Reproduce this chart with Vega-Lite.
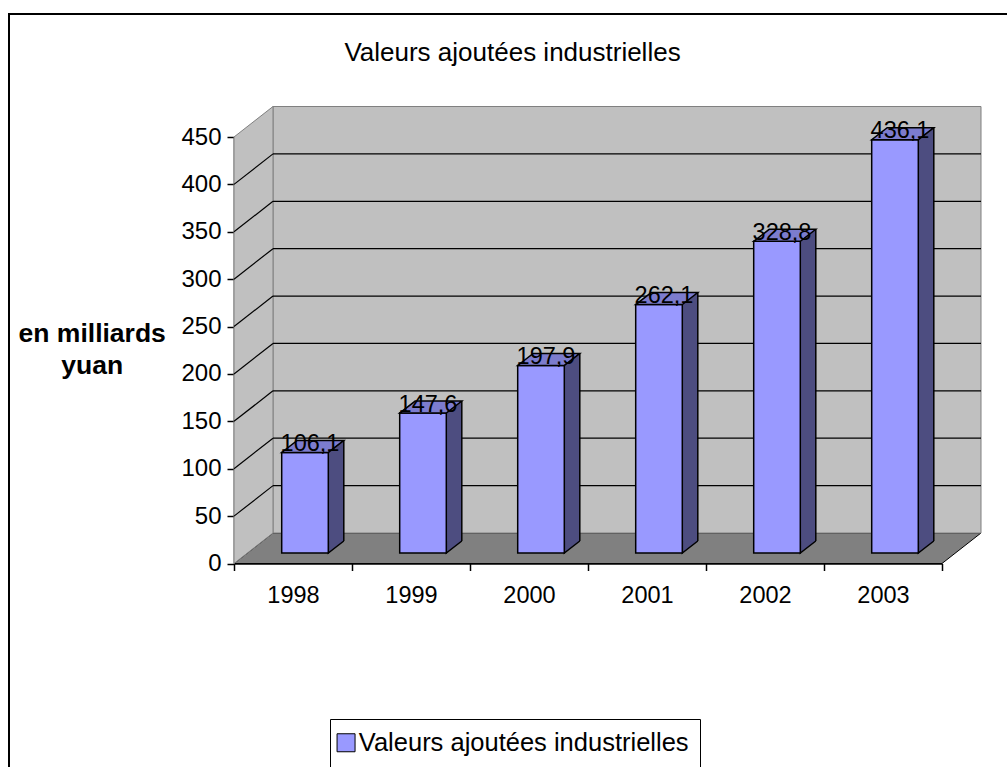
{
  "$schema": "https://vega.github.io/schema/vega-lite/v6.json",
  "width": 1007,
  "height": 767,
  "autosize": "none",
  "padding": {"left": 9, "top": 14, "right": 0, "bottom": 0},
  "background": "white",
  "config": {
    "font": "Liberation Sans",
    "view": {"stroke": "black", "strokeWidth": 2, "fill": "white"},
    "locale": {"number": {"decimal": ",", "thousands": " ", "grouping": [3], "currency": ["", " €"]}}
  },
  "title": {
    "text": "Valeurs ajoutées industrielles",
    "frame": "group",
    "anchor": "middle",
    "baseline": "alphabetic",
    "offset": -73,
    "fontSize": 26,
    "fontWeight": "normal",
    "color": "black",
    "font": "Liberation Sans"
  },
  "data": {"values": [
    {"year": 1998, "value": 106.1},
    {"year": 1999, "value": 147.6},
    {"year": 2000, "value": 197.9},
    {"year": 2001, "value": 262.1},
    {"year": 2002, "value": 328.8},
    {"year": 2003, "value": 436.1}
  ]},
  "resolve": {"axis": {"x": "independent", "y": "independent"}},
  "layer": [
    {
      "data": {"values": [{}]},
      "mark": {"type": "point", "shape": "M-0.90076,0L0.90076,0L1,-0.07761L-0.80153,-0.07761Z", "size": 617796, "filled": true, "fill": "#808080", "fillOpacity": 1, "stroke": "black", "strokeOpacity": 1, "strokeWidth": 1},
      "encoding": {
        "x": {"datum": 2000.5, "type": "quantitative", "scale": {"domain": [1997.5, 2003.5], "range": [225, 933], "nice": false, "zero": false}, "axis": null},
        "y": {"datum": 0, "type": "quantitative", "scale": {"domain": [0, 450], "range": [549.5, 123], "nice": false, "zero": false}, "axis": null}
      }
    },
    {
      "data": {"values": [{}]},
      "mark": {"type": "rect", "fill": "#C0C0C0", "stroke": "#808080", "strokeWidth": 1, "xOffset": 39, "x2Offset": 39, "yOffset": -30.5, "y2Offset": -30.5},
      "encoding": {
        "x": {"datum": 1997.5, "type": "quantitative", "axis": null},
        "x2": {"datum": 2003.5},
        "y": {"datum": 0, "type": "quantitative", "axis": null},
        "y2": {"datum": 450}
      }
    },
    {
      "data": {"values": [{}]},
      "mark": {"type": "point", "shape": "M0,0.87487L0,-0.87487L0.16,-1L0.16,0.74974Z", "size": 237656.25, "filled": true, "fill": "#C0C0C0", "fillOpacity": 1, "stroke": "#808080", "strokeOpacity": 1, "strokeWidth": 1},
      "encoding": {
        "x": {"datum": 1997.5, "type": "quantitative", "axis": null},
        "y": {"datum": 225, "type": "quantitative", "axis": null}
      }
    },
    {
      "data": {"values": [{"v": 50}, {"v": 100}, {"v": 150}, {"v": 200}, {"v": 250}, {"v": 300}, {"v": 350}, {"v": 400}]},
      "mark": {"type": "rule", "color": "black", "strokeWidth": 1.2, "xOffset": 39, "x2Offset": 39, "yOffset": -30.5},
      "encoding": {
        "x": {"datum": 1997.5, "type": "quantitative", "axis": null},
        "x2": {"datum": 2003.5},
        "y": {"field": "v", "type": "quantitative", "axis": null}
      }
    },
    {
      "data": {"values": [{"v": 50}, {"v": 100}, {"v": 150}, {"v": 200}, {"v": 250}, {"v": 300}, {"v": 350}, {"v": 400}]},
      "mark": {"type": "rule", "color": "black", "strokeWidth": 1.2, "x2Offset": 39, "y2Offset": -30.5},
      "encoding": {
        "x": {"datum": 1997.5, "type": "quantitative", "axis": null},
        "x2": {"datum": 1997.5},
        "y": {"field": "v", "type": "quantitative", "axis": null},
        "y2": {"field": "v"}
      }
    },
    {
      "mark": {"type": "rect", "fill": "#4D4D80", "xOffset": 35.3, "x2Offset": 50.8, "yOffset": -22.5, "y2Offset": -22.5},
      "encoding": {
        "x": {"field": "year", "type": "quantitative", "axis": null},
        "x2": {"field": "year"},
        "y": {"field": "value", "type": "quantitative", "axis": null},
        "y2": {"datum": 0}
      }
    },
    {
      "mark": {"type": "point", "shape": "M0.6949,-0.4429L0.6949,-0.2067L1,-0.4429", "size": 10322.56, "filled": true, "fill": "#4D4D80", "fillOpacity": 1, "stroke": "black", "strokeOpacity": 1, "strokeWidth": 1.5},
      "encoding": {
        "x": {"field": "year", "type": "quantitative", "axis": null},
        "y": {"datum": 0, "type": "quantitative", "axis": null}
      }
    },
    {
      "mark": {"type": "rule", "color": "black", "strokeWidth": 1.5, "xOffset": 50.8, "yOffset": -22.5, "y2Offset": -22.5},
      "encoding": {
        "x": {"field": "year", "type": "quantitative", "axis": {"orient": "bottom", "offset": -217.5, "values": [1997.5, 1998.5, 1999.5, 2000.5, 2001.5, 2002.5, 2003.5], "labels": false, "ticks": true, "tickSize": 7, "tickColor": "black", "tickWidth": 1.5, "domain": true, "domainColor": "black", "domainWidth": 1.5, "grid": false, "title": null}},
        "y": {"field": "value", "type": "quantitative", "axis": null},
        "y2": {"datum": 0}
      }
    },
    {
      "mark": {"type": "rect", "stroke": "black", "strokeWidth": 1.5, "xOffset": -11.3, "x2Offset": 35.3, "yOffset": -10.5, "y2Offset": -10.5},
      "encoding": {
        "x": {"field": "year", "type": "quantitative", "axis": {"orient": "bottom", "offset": -217.5, "values": [1998, 1999, 2000, 2001, 2002, 2003], "format": "d", "ticks": false, "tickSize": 0, "domain": false, "grid": false, "labelPadding": 20, "labelFontSize": 23.5, "labelColor": "black", "labelFont": "Liberation Sans", "title": null}},
        "x2": {"field": "year"},
        "y": {"field": "value", "type": "quantitative", "axis": {"orient": "left", "offset": -225, "values": [0, 50, 100, 150, 200, 250, 300, 350, 400, 450], "tickSize": 7, "tickColor": "black", "tickWidth": 1.5, "domainColor": "black", "domainWidth": 1.5, "labelPadding": 6, "labelFontSize": 24, "labelColor": "black", "labelFont": "Liberation Sans", "grid": false, "title": ["en milliards", "yuan"], "titleX": -142.3, "titleY": 327.7, "titleAngle": 0, "titleAlign": "center", "titleBaseline": "alphabetic", "titleFontSize": 26.5, "titleFontWeight": "bold", "titleFont": "Liberation Sans", "titleColor": "black", "titleLineHeight": 31.6}},
        "y2": {"datum": 0},
        "fill": {"datum": "Valeurs ajoutées industrielles", "type": "nominal", "scale": {"range": ["#9999FF"]}, "legend": {"orient": "none", "legendX": 321, "legendY": 705, "title": null, "padding": 11, "strokeColor": "black", "fillColor": "white", "symbolType": "square", "symbolSize": 324, "symbolOffset": -7.7, "labelOffset": 0, "labelFontSize": 25.5, "labelColor": "black", "labelFont": "Liberation Sans", "labelLimit": 0, "symbolStrokeColor": "black", "symbolStrokeWidth": 1, "symbolFillColor": "#9999FF"}}
      }
    },
    {
      "mark": {"type": "point", "shape": "M-0.2224,-0.2067L0.6949,-0.2067L1,-0.4429L0.0827,-0.4429Z", "size": 10322.56, "filled": true, "fill": "#7C7CCE", "fillOpacity": 1, "stroke": "black", "strokeOpacity": 1, "strokeWidth": 1.5},
      "encoding": {
        "x": {"field": "year", "type": "quantitative", "axis": null},
        "y": {"field": "value", "type": "quantitative", "axis": null}
      }
    },
    {
      "mark": {"type": "text", "fontSize": 23.5, "align": "center", "baseline": "alphabetic", "dx": 17, "dy": -12, "color": "black", "font": "Liberation Sans"},
      "encoding": {
        "x": {"field": "year", "type": "quantitative", "axis": null},
        "y": {"field": "value", "type": "quantitative", "axis": null},
        "text": {"field": "value", "type": "quantitative", "format": ".1f"}
      }
    }
  ]
}
